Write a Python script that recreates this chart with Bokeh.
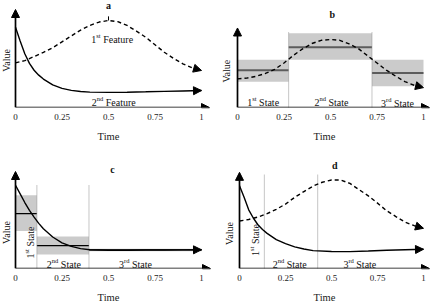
import math

from bokeh.embed import file_html
from bokeh.layouts import gridplot
from bokeh.models import Arrow, FixedTicker, Label, NormalHead, Range1d
from bokeh.plotting import figure
from bokeh.resources import INLINE

FONT = "'Liberation Serif', 'DejaVu Serif', serif"
LABEL_SIZE = 10
SUP_SIZE = 6.5
SUP_RISE = 4.0
BASE_DROP = 3.3

# ---------------------------------------------------------------- data
tick_values = [0, 0.25, 0.5, 0.75, 1]
tick_labels = ["0", "0.25", "0.5", "0.75", "1"]

# time grids
t_fine = [0, 0.05, 0.1, 0.15, 0.2, 0.25, 0.3, 0.35, 0.4, 0.45, 0.5,
          0.55, 0.6, 0.65, 0.7, 0.75, 0.8, 0.85, 0.9, 0.95, 1.0]
t_decay = [0, 0.025, 0.05, 0.075, 0.1, 0.125, 0.15, 0.2, 0.25, 0.3, 0.35,
           0.4, 0.5, 0.6, 0.7, 0.8, 0.9, 1.0]

# panel a: the two features
a_feature1 = [0.456, 0.478, 0.52, 0.562, 0.61, 0.67, 0.73, 0.79, 0.838, 0.872, 0.888,
              0.876, 0.837, 0.78, 0.717, 0.64, 0.564, 0.5, 0.446, 0.405, 0.378]
a_feature2 = [0.819, 0.678, 0.549, 0.45, 0.38, 0.33, 0.29, 0.23, 0.195, 0.175, 0.163,
              0.157, 0.154, 0.156, 0.16, 0.165, 0.169, 0.173]
a_peak_time = 0.5
a_peak_mark = [0.888, 0.93]

# panel b: 1st feature split into three states
b_feature1 = [0.36, 0.37, 0.392, 0.428, 0.48, 0.56, 0.655, 0.737, 0.805, 0.845, 0.855,
              0.845, 0.8, 0.74, 0.65, 0.56, 0.47, 0.395, 0.325, 0.28, 0.25]
b_bounds = [0, 0.275, 0.723, 1.0]
b_mean = [0.467, 0.757, 0.435]
b_low = [0.325, 0.6, 0.268]
b_high = [0.6, 0.935, 0.6]
b_divider_top = 0.954

# panel c: 2nd feature split into three states
c_feature2 = [0.858, 0.77, 0.68, 0.60, 0.53, 0.465, 0.41, 0.325, 0.265, 0.228, 0.205,
              0.193, 0.188, 0.188, 0.19, 0.19, 0.192, 0.193]
c_bounds = [0, 0.115, 0.395, 1.0]
c_mean = [0.566, 0.235, 0.191]
c_low = [0.386, 0.145, 0.179]
c_high = [0.755, 0.331, 0.203]
c_divider_top = 0.86

# panel d: both features with shared state boundaries
d_feature1 = [0.494, 0.51, 0.535, 0.57, 0.615, 0.67, 0.74, 0.80, 0.857, 0.897, 0.92,
              0.92, 0.885, 0.82, 0.755, 0.68, 0.60, 0.54, 0.482, 0.445, 0.418]
d_feature2 = [0.86, 0.74, 0.61, 0.525, 0.455, 0.405, 0.365, 0.3, 0.258, 0.225, 0.203,
              0.186, 0.177, 0.175, 0.182, 0.19, 0.195, 0.2]
d_dividers = [0.135, 0.425]
d_divider_top = 0.98

# ---------------------------------------------------------------- helpers
CHAR_W = {"0": .5, "1": .5, "2": .5, "3": .5, "S": .556, "t": .278, "a": .444,
          "e": .444, "F": .556, "u": .5, "r": .333, "s": .389, "n": .5, "d": .5}


def text_width(s, size):
    return sum(CHAR_W.get(c, 0.5) for c in s) * size


def make_panel(w, h, ox, oy, x1, xtip, ytop):
    """Frame fills the panel above the time axis; the origin sits at pixel
    (ox, oy), t=1 at pixel x1 and value 1 at the tip of the value arrow."""
    px_t = x1 - ox
    px_v = oy - ytop
    p = figure(width=w, height=h, output_backend="svg", toolbar_location=None,
               x_range=Range1d(-ox / px_t, (w - ox) / px_t),
               y_range=Range1d(0, oy / px_v),
               y_axis_type=None,
               min_border_left=0, min_border_right=0,
               min_border_top=0, min_border_bottom=h - oy)
    p.outline_line_color = None
    p.grid.visible = False
    p.background_fill_color = "white"
    p.border_fill_color = "white"

    ax = p.xaxis[0]
    ax.ticker = FixedTicker(ticks=tick_values)
    ax.major_label_overrides = {v: s for v, s in zip(tick_values, tick_labels)}
    ax.axis_line_color = None
    ax.major_tick_line_color = None
    ax.minor_tick_line_color = None
    ax.major_tick_out = 0
    ax.major_tick_in = 0
    ax.major_label_standoff = 6
    ax.major_label_text_font = FONT
    ax.major_label_text_font_size = "9px"
    ax.major_label_text_color = "#222222"
    ax.axis_label = "Time"
    ax.axis_label_text_font = FONT
    ax.axis_label_text_font_size = "10.5px"
    ax.axis_label_text_font_style = "normal"
    ax.axis_label_text_color = "#222222"
    ax.axis_label_standoff = 8

    xend = (xtip - ox) / px_t
    for xe, ye in ((xend, 0), (0, 1)):
        p.add_layout(Arrow(x_start=0, y_start=0, x_end=xe, y_end=ye,
                           line_color="black", line_width=1.7,
                           end=NormalHead(size=8, fill_color="black",
                                          line_color="black", line_width=1)))
    return p


def curve(p, t, v, dashed=False):
    p.line(t, v, line_color="black", line_width=1.4,
           line_dash="4 3" if dashed else "solid")
    p.add_layout(Arrow(x_start=t[-2], y_start=v[-2], x_end=t[-1], y_end=v[-1],
                       line_color=None,
                       end=NormalHead(size=8, fill_color="black",
                                      line_color="black", line_width=1)))


def states(p, bounds, low, high, mean, mean_color, mean_width):
    p.quad(left=bounds[:-1], right=bounds[1:], bottom=low, top=high,
           fill_color="#cbcbcb", line_color=None)
    p.segment(x0=bounds[:-1], x1=bounds[1:], y0=mean, y1=mean,
              line_color=mean_color, line_width=mean_width)


def dividers(p, xs, top):
    p.segment(x0=xs, x1=xs, y0=[0] * len(xs), y1=[top] * len(xs),
              line_color="#8c8c8c", line_width=1, line_dash="1 1")


def plain_label(p, x, y, text, bold=False, vertical=False, size=LABEL_SIZE):
    p.add_layout(Label(x=x, y=y, text=text, text_font=FONT,
                       text_font_size=f"{size}px",
                       text_font_style="bold" if bold else "normal",
                       text_align="center", text_baseline="middle",
                       text_color="#111111",
                       angle=math.pi / 2 if vertical else 0))


def ordinal_label(p, x, y, num, sup, rest, vertical=False):
    gap = 0.25 * LABEL_SIZE
    pieces = [(num, LABEL_SIZE, 0.0, 0.0), (sup, SUP_SIZE, SUP_RISE, gap),
              (rest, LABEL_SIZE, 0.0, 0.0)]
    total = sum(text_width(s, sz) + after for s, sz, _, after in pieces)
    pos = -total / 2
    for s, sz, rise, after in pieces:
        if vertical:
            xo, yo, ang = BASE_DROP - rise, pos, math.pi / 2
        else:
            xo, yo, ang = pos, -BASE_DROP + rise, 0.0
        p.add_layout(Label(x=x, y=y, x_offset=xo, y_offset=yo, angle=ang, text=s,
                           text_font=FONT, text_font_size=f"{sz}px",
                           text_align="left", text_baseline="alphabetic",
                           text_color="#111111"))
        pos += text_width(s, sz) + after


# ---------------------------------------------------------------- panel a
pa = make_panel(216, 152, ox=15, oy=107, x1=201, xtip=209, ytop=9)
curve(pa, t_fine, a_feature1, dashed=True)
curve(pa, t_decay, a_feature2)
pa.segment(x0=[a_peak_time], x1=[a_peak_time], y0=[a_peak_mark[0]], y1=[a_peak_mark[1]],
           line_color="black", line_width=1)
plain_label(pa, 0.5, 1.04, "a", bold=True)
plain_label(pa, -0.048, 0.48, "Value", vertical=True)
ordinal_label(pa, 0.52, 0.724, "1", "st", "Feature")
ordinal_label(pa, 0.528, 0.082, "2", "nd", "Feature")

# ---------------------------------------------------------------- panel b
pb = make_panel(216, 152, ox=21, oy=109, x1=207, xtip=213, ytop=28)
states(pb, b_bounds, b_low, b_high, b_mean, "#5c5c5c", 2)
dividers(pb, b_bounds[1:-1], b_divider_top)
curve(pb, t_fine, b_feature1, dashed=True)
plain_label(pb, 0.509, 1.173, "b", bold=True)
plain_label(pb, -0.059, 0.457, "Value", vertical=True)
ordinal_label(pb, 0.138, 0.102, "1", "st", "State")
ordinal_label(pb, 0.505, 0.102, "2", "nd", "State")
ordinal_label(pb, 0.86, 0.09, "3", "rd", "State")

# ---------------------------------------------------------------- panel c
pc = make_panel(216, 153, ox=15, oy=116, x1=201, xtip=210, ytop=19)
states(pc, c_bounds, c_low, c_high, c_mean, "black", 1.2)
dividers(pc, c_bounds[1:-1], c_divider_top)
curve(pc, t_decay, c_feature2)
plain_label(pc, 0.522, 1.018, "c", bold=True)
plain_label(pc, -0.048, 0.371, "Value", vertical=True)
ordinal_label(pc, 0.063, 0.268, "1", "st", "State", vertical=True)
ordinal_label(pc, 0.26, 0.079, "2", "nd", "State")
ordinal_label(pc, 0.645, 0.079, "3", "rd", "State")

# ---------------------------------------------------------------- panel d
pd = make_panel(216, 153, ox=23, oy=117, x1=207, xtip=213, ytop=20)
dividers(pd, d_dividers, d_divider_top)
curve(pd, t_fine, d_feature1, dashed=True)
curve(pd, t_decay, d_feature2)
plain_label(pd, 0.518, 1.075, "d", bold=True)
plain_label(pd, -0.053, 0.364, "Value", vertical=True)
ordinal_label(pd, 0.071, 0.296, "1", "st", "State", vertical=True)
ordinal_label(pd, 0.273, 0.079, "2", "nd", "State")
ordinal_label(pd, 0.654, 0.079, "3", "rd", "State")

layout = gridplot([[pa, pb], [pc, pd]], toolbar_location=None)

with open("out.html", "w") as f:
    f.write(file_html(layout, INLINE))
